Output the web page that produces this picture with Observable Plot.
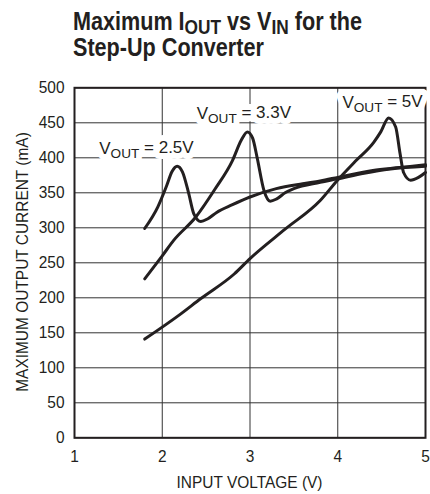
<!DOCTYPE html>
<html>
<head>
<meta charset="utf-8">
<script src="https://cdn.jsdelivr.net/npm/d3@7"></script>
<script src="https://cdn.jsdelivr.net/npm/@observablehq/plot@0.6"></script>
<style>
  html, body { margin: 0; padding: 0; background: #fff; }
  #wrap { position: relative; width: 430px; height: 494px; overflow: hidden;
    font-family: "Liberation Sans", Arial, sans-serif; color: #231f20; }
  #title { position: absolute; left: 73px; top: 8px; font-weight: bold; font-size: 25px; line-height: 26px; white-space: nowrap; transform-origin: 0 0; }
  #title span { display: block; }
  #title sub { font-size: 0.8em; vertical-align: -0.2em; line-height: 0; }
  #chart { position: absolute; left: 0; top: 78px; }
</style>
</head>
<body>
<div id="wrap">
  <div id="title"><span id="t1">Maximum I<sub>OUT</sub> vs V<sub>IN</sub> for the</span><span>Step-Up Converter</span></div>
  <div id="chart"></div>
</div>
<script>
// VOUT = 2.5V
const vin25  = [1.8, 1.95, 2.05, 2.11, 2.17, 2.23, 2.30, 2.36, 2.44, 2.52, 2.62, 2.8, 3.0, 3.3, 3.6, 3.8, 4.0, 4.4, 4.7, 5.0];
const iout25 = [299, 330, 360, 380, 388, 380, 350, 320, 309, 313, 322, 333, 344, 356, 363, 367, 372, 382, 386, 390];
// VOUT = 3.3V
const vin33  = [1.8, 2.0, 2.13, 2.38, 2.6, 2.8, 2.9, 2.97, 3.03, 3.08, 3.16, 3.23, 3.3, 3.4, 3.5, 3.8, 4.0, 4.3, 4.6, 5.0];
const iout33 = [227, 260, 282, 315, 355, 396, 425, 437, 428, 401, 353, 338, 341, 350, 356, 365, 370, 378, 384, 388];
// VOUT = 5V
const vin5   = [1.8, 2.2, 2.44, 2.82, 3.0, 3.4, 3.8, 3.99, 4.2, 4.41, 4.49, 4.58, 4.66, 4.71, 4.75, 4.83, 4.92, 5.0];
const iout5  = [141, 176, 199, 234, 256, 298, 339, 367, 395, 422, 437, 457, 444, 406, 379, 368, 372, 379];

const labelText = ["VOUT = 2.5V", "VOUT = 3.3V", "VOUT = 5V"];
const labelX = [1.82, 2.93, 4.51];
const labelY = [413, 463, 479];

const xTicks = [1, 2, 3, 4, 5];
const yTicks = [0, 50, 100, 150, 200, 250, 300, 350, 400, 450, 500];

const series = [
  ...vin25.map((v, i) => ({s: "2.5V", v, i: iout25[i]})),
  ...vin33.map((v, i) => ({s: "3.3V", v, i: iout33[i]})),
  ...vin5.map((v, i) => ({s: "5V", v, i: iout5[i]}))
];
const labels = labelText.map((t, k) => ({t, x: labelX[k], y: labelY[k]}));

const ink = "#231f20";
const font = '"Liberation Sans", Arial, sans-serif';

const plot = Plot.plot({
  width: 430,
  height: 416,
  marginLeft: 74,
  marginRight: 5,
  marginTop: 9.3,
  marginBottom: 56.7,
  style: {fontFamily: font, fontSize: "16px", color: ink, background: "#fff", overflow: "visible"},
  x: {domain: [1, 5], ticks: xTicks, tickFormat: d => String(d), tickSize: 0, tickPadding: 13, label: null},
  y: {domain: [0, 500], ticks: yTicks, tickFormat: d => String(d), tickSize: 0, tickPadding: 10, label: null},
  marks: [
    Plot.gridX(xTicks, {stroke: "#333", strokeOpacity: 1, strokeWidth: 1}),
    Plot.gridY(yTicks, {stroke: "#333", strokeOpacity: 1, strokeWidth: 1}),
    Plot.frame({stroke: ink, strokeWidth: 2}),
    Plot.line(series, {x: "v", y: "i", z: "s", stroke: ink, strokeWidth: 3, curve: "monotone-x"}),
    // white box (halo) behind each curve label, then the label itself
    Plot.text(labels, {x: "x", y: "y", text: "t", fill: "white", stroke: "white", strokeWidth: 12, fontSize: 17, fontFamily: font}),
    Plot.text(labels, {x: "x", y: "y", text: "t", fill: ink, fontSize: 17, fontFamily: font})
  ]
});

const svg = d3.select(plot);
svg.selectAll('g[aria-label="text"] text').each(function() {
  const el = d3.select(this);
  const t = el.text();
  const rest = t.slice(4);
  el.text(null).classed("lbl", true);
  el.append("tspan").text("V");
  el.append("tspan").attr("font-size", "0.8em").attr("dy", "0.3em").text("OUT");
  el.append("tspan").attr("dy", "-0.3em").text(rest);
});
svg.append("text")
  .attr("transform", "translate(22,184) rotate(-90)")
  .attr("text-anchor", "middle")
  .attr("dy", "0.35em")
  .attr("fill", ink)
  .attr("font-size", 16)
  .text("MAXIMUM OUTPUT CURRENT (mA)");
const xl = svg.append("text")
  .attr("x", 249.5)
  .attr("y", 410)
  .attr("text-anchor", "middle")
  .attr("fill", ink)
  .attr("font-size", 16)
  .text("INPUT VOLTAGE (V)");

document.getElementById("chart").appendChild(plot);

// condense glyphs horizontally to mimic the narrow typeface (not the curve labels)
const f = 146 / xl.node().getComputedTextLength();
svg.selectAll("text:not(.lbl)").each(function() {
  const len = this.getComputedTextLength();
  this.setAttribute("textLength", len * f);
  this.setAttribute("lengthAdjust", "spacingAndGlyphs");
});
const title = document.getElementById("title");
const w1 = document.getElementById("t1").getBoundingClientRect().width;
title.style.transform = `scaleX(${289 / w1})`;
</script>
</body>
</html>
